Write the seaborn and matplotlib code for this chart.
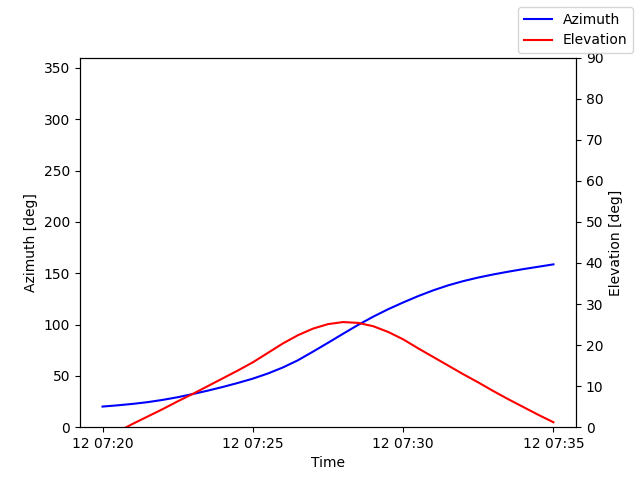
import matplotlib
matplotlib.use("Agg")
import matplotlib.pyplot as plt
import matplotlib.dates as mdates
import seaborn as sns
import pandas as pd

times = ["07:20:00", "07:20:30", "07:21:00", "07:21:30", "07:22:00", "07:22:30",
         "07:23:00", "07:23:30", "07:24:00", "07:24:30", "07:25:00", "07:25:30",
         "07:26:00", "07:26:30", "07:27:00", "07:27:30", "07:28:00", "07:28:30",
         "07:29:00", "07:29:30", "07:30:00", "07:30:30", "07:31:00", "07:31:30",
         "07:32:00", "07:32:30", "07:33:00", "07:33:30", "07:34:00", "07:34:30",
         "07:35:00"]
azimuth = [20.1, 21.3, 22.7, 24.4, 26.6, 29.2, 32.3, 35.6, 39.2, 43.1, 47.3,
           52.3, 58.2, 65.2, 73.6, 82.2, 91.0, 99.6, 107.6, 114.9, 121.5,
           127.7, 133.3, 138.2, 142.3, 145.8, 148.8, 151.5, 154.0, 156.3, 158.6]
elevation = [-3.0, -1.1, 0.8, 2.6, 4.4, 6.3, 8.1, 10.0, 11.9, 13.8, 15.8,
             18.1, 20.4, 22.4, 24.0, 25.1, 25.6, 25.4, 24.6, 23.2, 21.4,
             19.2, 17.1, 15.0, 12.9, 10.9, 8.8, 6.8, 4.9, 3.0, 1.2]

t = pd.to_datetime(["2024-03-12 " + s for s in times])
df = pd.DataFrame({"Time": t, "Azimuth": azimuth, "Elevation": elevation})

fig, ax = plt.subplots(figsize=(6.4, 4.8), dpi=100)
sns.lineplot(data=df, x="Time", y="Azimuth", ax=ax, color="blue", label="Azimuth")
ax2 = ax.twinx()
sns.lineplot(data=df, x="Time", y="Elevation", ax=ax2, color="red", label="Elevation")

for a in (ax, ax2):
    if a.get_legend() is not None:
        a.get_legend().remove()

ax.set_ylim(0, 360)
ax2.set_ylim(0, 90)
ax.set_xlabel("Time")
ax.set_ylabel("Azimuth [deg]")
ax2.set_ylabel("Elevation [deg]")
ax.xaxis.set_major_locator(mdates.MinuteLocator(byminute=[0, 5, 10, 15, 20, 25, 30, 35, 40, 45, 50, 55]))
ax.xaxis.set_major_formatter(mdates.DateFormatter("%d %H:%M"))

h1, l1 = ax.get_legend_handles_labels()
h2, l2 = ax2.get_legend_handles_labels()
fig.legend(h1 + h2, l1 + l2)

fig.savefig("out.png", dpi=100)
